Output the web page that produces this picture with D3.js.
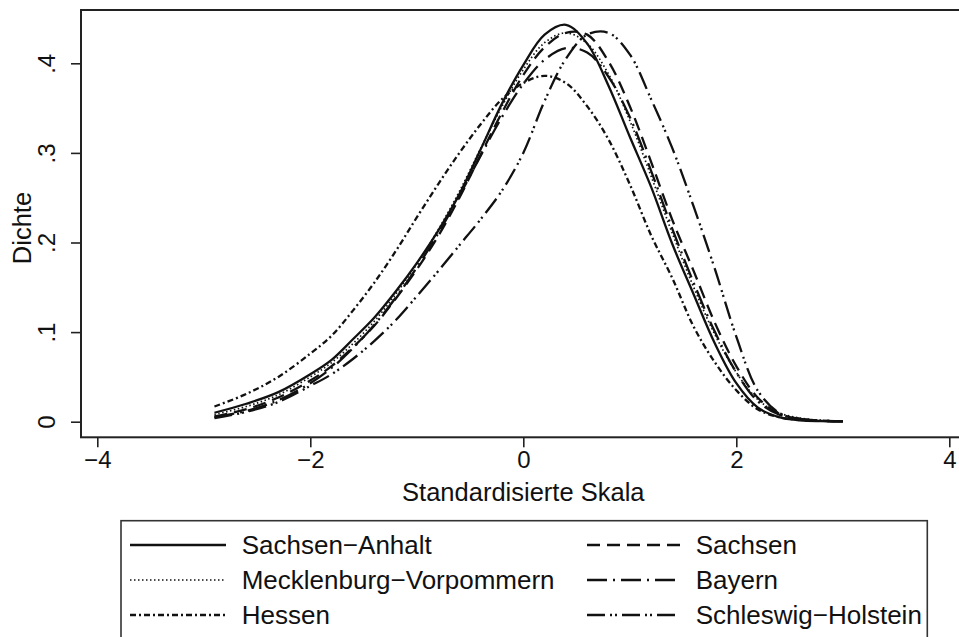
<!DOCTYPE html>
<html>
<head>
<meta charset="utf-8">
<script src="https://cdn.jsdelivr.net/npm/d3@7"></script>
<style>
  html, body { margin: 0; padding: 0; background: #fff; }
  svg text { font-family: "Liberation Sans", Arial, Helvetica, sans-serif; fill: #111; }
</style>
</head>
<body>
<svg id="chart" width="959" height="637"></svg>
<script>
// ---------------- data ----------------
const xGrid = [-2.9,-2.6,-2.3,-2.0,-1.8,-1.6,-1.4,-1.2,-1.0,-0.8,-0.6,-0.4,-0.2,0,0.2,0.4,0.6,0.8,1.0,1.2,1.4,1.6,1.8,2.0,2.2,2.4,2.6,2.8,3.0];

const sachsenAnhalt = [0.010,0.020,0.033,0.053,0.069,0.092,0.116,0.145,0.177,0.213,0.254,0.304,0.355,0.398,0.432,0.443,0.422,0.375,0.318,0.262,0.198,0.142,0.087,0.043,0.016,0.005,0.0015,0.0006,0.0003];
const sachsen = [0.006,0.014,0.027,0.046,0.062,0.083,0.107,0.137,0.170,0.207,0.250,0.298,0.345,0.387,0.418,0.434,0.432,0.402,0.352,0.290,0.225,0.168,0.110,0.062,0.027,0.009,0.003,0.001,0.0005];
const mecklenburg = [0.008,0.017,0.030,0.050,0.066,0.087,0.112,0.142,0.176,0.214,0.257,0.305,0.352,0.393,0.423,0.434,0.422,0.388,0.336,0.274,0.210,0.150,0.097,0.055,0.025,0.010,0.004,0.0015,0.0008];
const bayern = [0.005,0.012,0.024,0.043,0.060,0.082,0.108,0.138,0.172,0.210,0.252,0.297,0.340,0.377,0.404,0.417,0.412,0.385,0.340,0.280,0.215,0.155,0.100,0.055,0.023,0.008,0.003,0.001,0.0005];
const hessen = [0.017,0.031,0.050,0.076,0.096,0.124,0.155,0.190,0.228,0.265,0.300,0.332,0.360,0.378,0.386,0.378,0.352,0.315,0.265,0.208,0.160,0.106,0.066,0.035,0.014,0.005,0.002,0.001,0.0005];
const schleswig = [0.004,0.011,0.022,0.040,0.053,0.070,0.090,0.113,0.140,0.168,0.197,0.226,0.258,0.300,0.358,0.405,0.432,0.434,0.410,0.360,0.305,0.240,0.170,0.095,0.035,0.010,0.003,0.001,0.0005];

const seriesNames = ["Sachsen\u2212Anhalt","Sachsen","Mecklenburg\u2212Vorpommern","Bayern","Hessen","Schleswig\u2212Holstein"];
const seriesValues = [sachsenAnhalt, sachsen, mecklenburg, bayern, hessen, schleswig];

const xTicks = [-4,-2,0,2,4];
const yTicks = [0,0.1,0.2,0.3,0.4];
const yTickLabels = ["0",".1",".2",".3",".4"];
const xTitle = "Standardisierte Skala";
const yTitle = "Dichte";

// ---------------- styles ----------------
const dashes = ["none","13,7","1.5,2.5","20,6,2,6","6,3,2,3","18,5,2,3,2,5"];
const widths = [2.3,2.3,1.7,2.3,2.3,2.3];

// ---------------- drawing ----------------
const svg = d3.select("#chart");
const x = d3.scaleLinear().domain([-4,4]).range([97.3, 949.3]);
const y = d3.scaleLinear().domain([0,0.4]).range([421.7, 63.3]);

// frame
svg.append("rect")
  .attr("x",81).attr("y",10).attr("width",900).attr("height",427.3)
  .attr("fill","none").attr("stroke","#222").attr("stroke-width",2);

// x axis
const gx = svg.append("g").attr("transform","translate(0,437.3)")
  .call(d3.axisBottom(x).tickValues(xTicks).tickSize(10).tickPadding(4)
    .tickFormat(d => (d<0 ? "\u2212"+Math.abs(d) : String(d))));
gx.select(".domain").remove();
gx.selectAll(".tick line").attr("stroke","#222").attr("stroke-width",1.6);
gx.selectAll(".tick text").attr("font-size",24).attr("fill","#111")
  .attr("font-family","Liberation Sans, Arial, sans-serif");

// y axis
const gy = svg.append("g").attr("transform","translate(81,0)")
  .call(d3.axisLeft(y).tickValues(yTicks).tickSize(10).tickFormat((d,i)=>yTickLabels[i]));
gy.select(".domain").remove();
gy.selectAll(".tick line").attr("stroke","#222").attr("stroke-width",1.6);
gy.selectAll(".tick text")
  .attr("font-size",24).attr("fill","#111")
  .attr("font-family","Liberation Sans, Arial, sans-serif")
  .attr("text-anchor","middle")
  .attr("x",0).attr("dy",0)
  .attr("transform","translate(-32,0) rotate(-90)")
  .attr("dominant-baseline","middle");

// axis titles
svg.append("text").attr("x",523.3).attr("y",501)
  .attr("text-anchor","middle").attr("font-size",25.5).text(xTitle);
svg.append("text").attr("transform","translate(31,228) rotate(-90)")
  .attr("text-anchor","middle").attr("font-size",25.5).text(yTitle);

// curves
const line = d3.line()
  .x((d,i)=>x(xGrid[i]))
  .y(d=>y(d))
  .curve(d3.curveCatmullRom.alpha(0.5));

seriesValues.forEach((vals,k)=>{
  svg.append("path")
    .datum(vals)
    .attr("d",line)
    .attr("fill","none")
    .attr("stroke","#111")
    .attr("stroke-width",widths[k])
    .attr("stroke-dasharray",dashes[k]);
});

// legend
svg.append("rect").attr("x",121).attr("y",520.7).attr("width",806.3).attr("height",140)
  .attr("fill","none").attr("stroke","#333").attr("stroke-width",1.6);

const legCols = [{sx:130, ex:226, tx:241.7},{sx:587, ex:680, tx:695.7}];
const legRows = [545,580,615];
seriesNames.forEach((name,k)=>{
  const c = legCols[k%2], r = legRows[Math.floor(k/2)];
  svg.append("line").attr("x1",c.sx).attr("x2",c.ex).attr("y1",r).attr("y2",r)
    .attr("stroke","#111").attr("stroke-width",k===2?1.4:2.4)
    .attr("stroke-dasharray",dashes[k]);
  svg.append("text").attr("x",c.tx).attr("y",r).attr("dy","0.35em")
    .attr("font-size",26).text(name);
});
</script>
</body>
</html>
